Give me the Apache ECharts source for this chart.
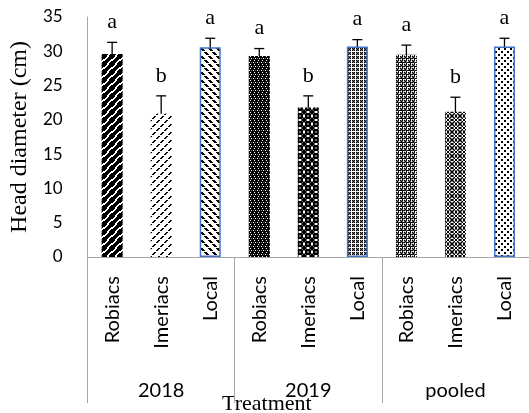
<!DOCTYPE html>
<html>
<head>
<meta charset="utf-8">
<script src="https://cdn.jsdelivr.net/npm/echarts@6/dist/echarts.min.js"></script>
<style>
  html, body { margin: 0; padding: 0; background: #fff; }
  #chart { width: 529px; height: 413px; }
</style>
</head>
<body>
<div id="chart"></div>
<script>
// Head diameter by treatment, per season and pooled
const groups = ['2018', '2019', 'pooled'];
const treatments = ['Robiacs', 'Imeriacs', 'Local'];
const headDiameter = [29.6, 20.9, 30.6, 29.3, 21.8, 30.7, 29.5, 21.2, 30.7];
const stdError = [1.7, 2.6, 1.3, 1.1, 1.7, 1.0, 1.4, 2.1, 1.2];
const letters = ['a', 'b', 'a', 'a', 'b', 'a', 'a', 'b', 'a'];
const yTicks = { min: 0, max: 35, interval: 5 };

// one category per group x treatment
const categories = [];
groups.forEach(g => treatments.forEach(t => categories.push(g + '|' + t)));

// ---- pattern fills (small pixel tiles) ----
function makeTile(rows) {
  const h = rows.length, w = rows[0].length;
  const c = document.createElement('canvas');
  c.width = w; c.height = h;
  const ctx = c.getContext('2d');
  ctx.fillStyle = '#fff';
  ctx.fillRect(0, 0, w, h);
  const colors = { '#': '#000', '+': '#6e6e6e', '-': '#b4b4b4' };
  for (let y = 0; y < h; y++) {
    for (let x = 0; x < w; x++) {
      const ch = rows[y][x];
      if (colors[ch]) {
        ctx.fillStyle = colors[ch];
        ctx.fillRect(x, y, 1, 1);
      }
    }
  }
  return { image: c, repeat: 'repeat' };
}

const patterns = [
  // wide upward diagonal
  makeTile([
    '###..###',
    '##..####',
    '#..#####',
    '..#####.',
    '.#####..',
    '#####..#',
    '####..##',
    '###..###'
  ]),
  // dashed upward diagonal
  makeTile([
    '......##',
    '.....##.',
    '....##..',
    '........',
    '..##....',
    '.##.....',
    '##......',
    '........'
  ]),
  // dashed downward diagonal, heavy
  makeTile([
    '###.....',
    '.###....',
    '..###...',
    '........',
    '....###.',
    '.....###',
    '#.....##',
    '........'
  ]),
  // dark grid with light dots
  makeTile([
    '##.###.#',
    '########',
    '#+#.#+#.',
    '########',
    '##.###.#',
    '########',
    '#.#+#.#+',
    '########'
  ]),
  // dark sphere weave
  makeTile([
    '##+..+##',
    '#+####+#',
    '+######+',
    '.##++##.',
    '.##++##.',
    '+######+',
    '#+####+#',
    '##+..+##'
  ]),
  // gray plaid
  makeTile([
    '#+#.#+#.',
    '+#+.+#+.',
    '#+#.#+#.',
    '....-...',
    '#+#.#+#.',
    '+#+.+#+.',
    '#+#.#+#.',
    '....-...'
  ]),
  // plaid with light lines
  makeTile([
    '#+#-#+#.',
    '+#+.+#+.',
    '#+###+##',
    '-.#.-.#.',
    '#+#-#+#.',
    '+#+.+#+.',
    '######+#',
    '..#.-.#.'
  ]),
  // crossed weave
  makeTile([
    '#.+##+.#',
    '.#+..+#.',
    '++#++#++',
    '#.+##+.#',
    '#.+##+.#',
    '++#++#++',
    '.#+..+#.',
    '#.+##+.#'
  ]),
  // sparse dots
  makeTile([
    '##....',
    '##....',
    '......',
    '...##.',
    '...##.',
    '......'
  ])
];

const barData = headDiameter.map((v, i) => {
  const isLocal = treatments[i % 3] === 'Local';
  return {
    value: v,
    itemStyle: {
      color: patterns[i],
      borderColor: isLocal ? '#4472C4' : 'transparent',
      borderWidth: isLocal ? 1.5 : 0
    }
  };
});

const axisGray = '#a6a6a6';

const chart = echarts.init(document.getElementById('chart'), null, { renderer: 'canvas' });
chart.setOption({
  animation: false,
  backgroundColor: '#fff',
  grid: { left: 81, top: 17, width: 451, bottom: 156, containLabel: false },
  xAxis: [
    {
      type: 'category',
      data: categories,
      position: 'bottom',
      axisLine: { show: true, lineStyle: { color: axisGray, width: 1 } },
      axisTick: { show: false },
      axisLabel: {
        rotate: 90,
        margin: 19,
        interval: 0,
        fontFamily: 'Lato',
        fontSize: 20,
        color: '#000',
        formatter: v => v.split('|')[1]
      }
    },
    {
      type: 'category',
      data: groups,
      position: 'bottom',
      axisLine: { show: false },
      axisTick: { show: true, length: 146, interval: 0, lineStyle: { color: axisGray, width: 1 } },
      axisLabel: {
        margin: 124,
        interval: 0,
        fontFamily: 'Lato',
        fontSize: 20,
        color: '#000'
      }
    }
  ],
  yAxis: {
    type: 'value',
    min: yTicks.min,
    max: yTicks.max,
    interval: yTicks.interval,
    name: 'Head diameter (cm)',
    nameLocation: 'middle',
    nameGap: 48,
    nameTextStyle: { fontFamily: 'Liberation Serif', fontSize: 24, color: '#000' },
    axisLine: { show: true, lineStyle: { color: axisGray, width: 1 } },
    axisTick: { show: false },
    splitLine: { show: false },
    axisLabel: { margin: 25, fontFamily: 'Lato', fontSize: 17, color: '#000' }
  },
  graphic: [
    {
      type: 'text',
      left: 222,
      top: 393,
      style: { text: 'Treatment', font: '22px "Liberation Serif"', fill: '#000' }
    }
  ],
  series: [
    {
      type: 'bar',
      data: barData,
      barWidth: 21,
      xAxisIndex: 0
    },
    {
      type: 'custom',
      xAxisIndex: 0,
      data: headDiameter.map((v, i) => [i, v, stdError[i]]),
      renderItem: function (params, api) {
        const i = api.value(0);
        const mean = api.value(1);
        const se = api.value(2);
        const top = api.coord([i, mean + se]);
        const bot = api.coord([i, mean - se]);
        const half = 5;
        const ls = { stroke: '#000', lineWidth: 1.3 };
        return {
          type: 'group',
          children: [
            { type: 'line', shape: { x1: top[0], y1: top[1], x2: bot[0], y2: bot[1] }, style: ls },
            { type: 'line', shape: { x1: top[0] - half, y1: top[1], x2: top[0] + half, y2: top[1] }, style: ls },
            { type: 'line', shape: { x1: bot[0] - half, y1: bot[1], x2: bot[0] + half, y2: bot[1] }, style: ls },
            {
              type: 'text',
              x: top[0],
              y: top[1] - 9,
              style: {
                text: letters[params.dataIndex],
                font: '22px "Liberation Serif"',
                fill: '#000',
                align: 'center',
                verticalAlign: 'bottom'
              }
            }
          ]
        };
      }
    }
  ]
});
</script>
</body>
</html>
